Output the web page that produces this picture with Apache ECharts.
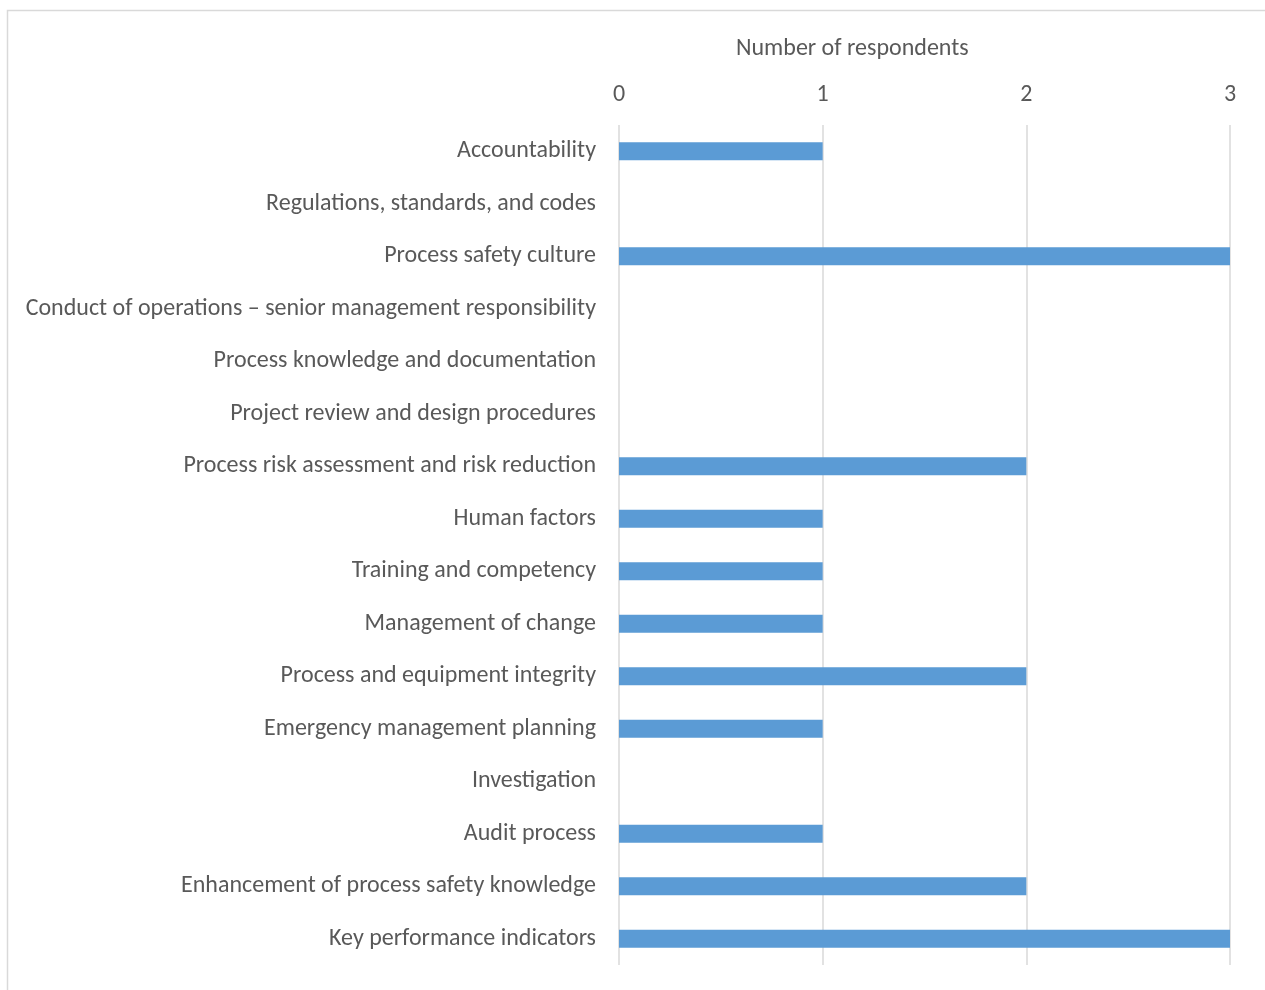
<!DOCTYPE html>
<html>
<head>
<meta charset="utf-8">
<script src="https://cdn.jsdelivr.net/npm/echarts@6/dist/echarts.min.js"></script>
<style>html,body{margin:0;padding:0;background:#fff;}#c{width:1265px;height:990px;}</style>
</head>
<body>
<div id="c"></div>
<script>
var categories = [
  "Accountability",
  "Regulations, standards, and codes",
  "Process safety culture",
  "Conduct of operations \u2013 senior management responsibility",
  "Process knowledge and documentation",
  "Project review and design procedures",
  "Process risk assessment and risk reduction",
  "Human factors",
  "Training and competency",
  "Management of change",
  "Process and equipment integrity",
  "Emergency management planning",
  "Investigation",
  "Audit process",
  "Enhancement of process safety knowledge",
  "Key performance indicators"
];
var respondents = [1, 0, 3, 0, 0, 0, 2, 1, 1, 1, 2, 1, 0, 1, 2, 3];
var axisTitle = "Number of respondents";

var FONT = "Carlito, 'Open Sans', sans-serif";
var chart = echarts.init(document.getElementById('c'));
chart.setOption({
  backgroundColor: '#fff',
  animation: false,
  graphic: [
    {type: 'rect', left: 5, top: 8, shape: {width: 1280, height: 1000},
     style: {fill: 'none', stroke: '#d9d9d9', lineWidth: 1.5}, z: -1},
    {type: 'text', left: 736, top: 37,
     style: {text: axisTitle, font: '24px ' + FONT, fill: '#595959'}}
  ],
  grid: {left: 619, right: 35, top: 125, bottom: 25, containLabel: false},
  xAxis: {
    type: 'value', position: 'top', min: 0, max: 3, interval: 1,
    axisLine: {show: false}, axisTick: {show: false},
    axisLabel: {fontSize: 24, color: '#595959', fontFamily: FONT, margin: 18},
    splitLine: {show: true, lineStyle: {color: '#d9d9d9', width: 1.5}}
  },
  yAxis: {
    type: 'category', data: categories, inverse: true,
    axisLine: {show: false}, axisTick: {show: false},
    axisLabel: {fontSize: 24, color: '#595959', fontFamily: FONT, margin: 23,
                padding: [3, 0, 0, 0]}
  },
  series: [{
    type: 'bar', data: respondents, barWidth: 18,
    itemStyle: {color: '#5b9bd5'}
  }]
});
</script>
</body>
</html>
